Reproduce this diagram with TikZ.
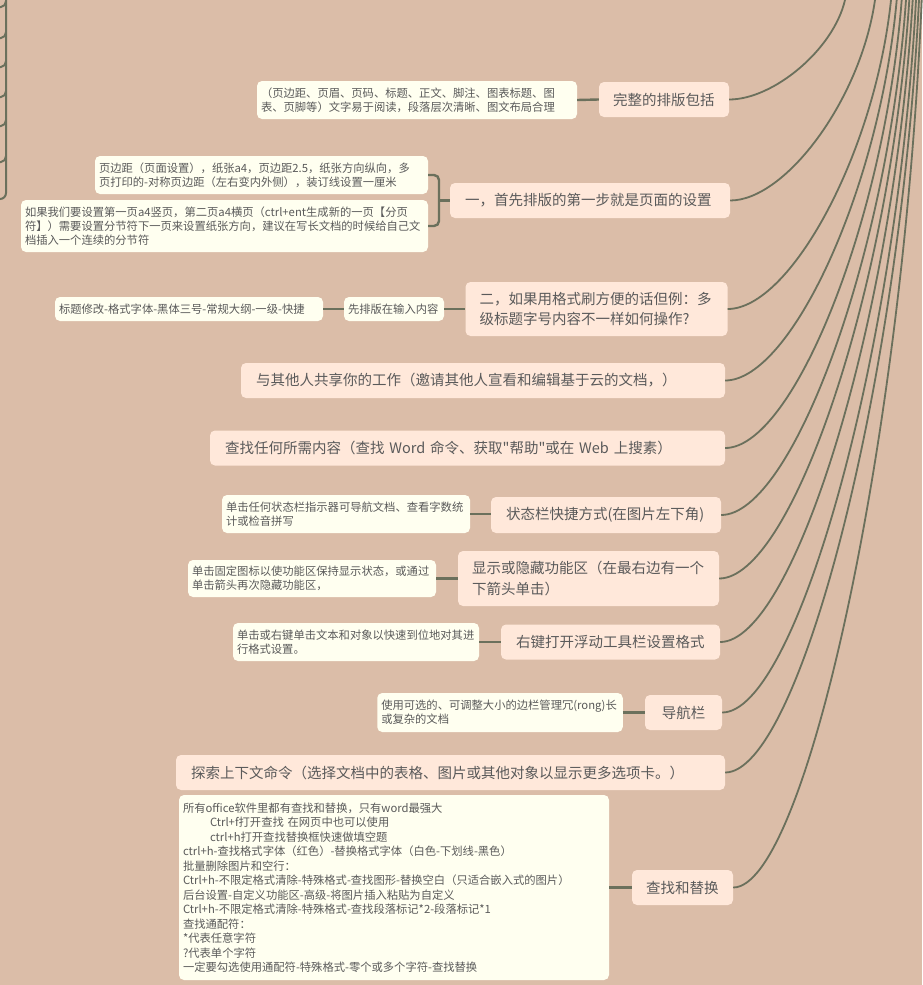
\documentclass[tikz,border=0pt]{standalone}
\usepackage{fontspec}
\newfontfamily\cjk{Noto Sans CJK SC}
\usetikzlibrary{calc}
\definecolor{bgc}{HTML}{DBBDA8}
\definecolor{mainfill}{HTML}{FFE8DA}
\definecolor{leaffill}{HTML}{FFFFF0}
\definecolor{linec}{HTML}{6B705C}
\definecolor{textc}{HTML}{5A5A5A}
\tikzset{
  mainnode/.style={fill=mainfill, rounded corners=5pt, text=textc,
    font=\cjk\fontsize{14.5}{20.5}\selectfont, inner xsep=15pt, inner ysep=0pt, align=left},
  leafnode/.style={fill=leaffill, rounded corners=5pt, text=textc,
    font=\cjk\fontsize{11.3}{14}\selectfont, inner xsep=4pt, inner ysep=0pt, align=left},
  curveline/.style={draw=linec, line width=1.8pt},
  linkline/.style={draw=linec, line width=2.4pt},
  brline/.style={draw=linec, line width=2pt},
}
\begin{document}
\begin{tikzpicture}[x=1pt,y=-1pt]
\fill[bgc] (0,0) rectangle (922,985);
\useasboundingbox (0,0) rectangle (922,985);

% main topics
\node[mainnode, inner xsep=14pt, text width=102pt, minimum height=35pt] (m1) at (664,99.5) {完整的排版包括};
\node[mainnode, text width=250pt, minimum height=35pt] (m2) at (590,200.5) {一，首先排版的第一步就是页面的设置};
\node[mainnode, inner xsep=14pt, text width=234pt, minimum height=54pt] (m3) at (596.5,309) {二，如果用格式刷方便的话但例：多\\级标题字号内容不一样如何操作?};
\node[mainnode, text width=454pt, minimum height=35pt] (m4) at (483,380.5) {与其他人共享你的工作（邀请其他人宣看和编辑基于云的文档，）};
\node[mainnode, text width=485pt, minimum height=35pt] (m5) at (467.5,448) {查找任何所需内容（查找 Word 命令、获取"帮助"或在 Web 上搜素）};
\node[mainnode, text width=200pt, minimum height=36pt] (m6) at (606,515) {状态栏快捷方式(在图片左下角)};
\node[mainnode, inner xsep=14pt, text width=233pt, minimum height=55pt] (m7) at (588.5,578.5) {显示或隐藏功能区（在最右边有一个\\下箭头单击）};
\node[mainnode, text width=189pt, minimum height=35pt] (m8) at (610.5,642) {右键打开浮动工具栏设置格式};
\node[mainnode, align=center, text width=47pt, minimum height=35pt] (m9) at (683.5,712.5) {导航栏};
\node[mainnode, text width=519pt, minimum height=35pt] (m10) at (450.5,772.5) {探索上下文命令（选择文档中的表格、图片或其他对象以显示更多选项卡。）};
\node[mainnode, inner xsep=14pt, text width=73pt, minimum height=35pt] (m11) at (682.5,887.5) {查找和替换};

% leaves
\node[leafnode, text width=312pt, minimum height=38pt] (l1) at (417,100) {（页边距、页眉、页码、标题、正文、脚注、图表标题、图\\表、页脚等）文字易于阅读，段落层次清晰、图文布局合理};
\node[leafnode, text width=325pt, minimum height=38pt] (l2a) at (261.5,175) {页边距（页面设置），纸张a4，页边距2.5，纸张方向纵向，多\\页打印的-对称页边距（左右变内外侧），装订线设置一厘米};
\node[leafnode, text width=399pt, minimum height=52pt] (l2b) at (224.5,226) {如果我们要设置第一页a4竖页，第二页a4横页（ctrl+ent生成新的一页【分页\\符】）需要设置分节符下一页来设置纸张方向，建议在写长文档的时候给自己文\\档插入一个连续的分节符};
\node[leafnode, text width=92pt, minimum height=24pt] (l3) at (394,309) {先排版在输入内容};
\node[leafnode, text width=260pt, minimum height=24pt] (l3b) at (189,309) {标题修改-格式字体-黑体三号-常规大纲-一级-快捷};
\node[leafnode, text width=240pt, minimum height=38pt] (l6) at (346,514) {单击任何状态栏指示器可导航文档、查看字数统\\计或检音拼写};
\node[leafnode, text width=240pt, minimum height=37pt] (l7) at (312,578.5) {单击固定图标以使功能区保持显示状态，或通过\\单击箭头再次隐藏功能区，};
\node[leafnode, text width=238pt, minimum height=38pt] (l8) at (356,642) {单击或右键单击文本和对象以快速到位地对其进\\行格式设置。};
\node[leafnode, text width=237.5pt, minimum height=39pt] (l9) at (500,712.5) {使用可选的、可调整大小的边栏管理冗(rong)长\\或复杂的文档};
\node[leafnode, font=\cjk\fontsize{11.3}{14.5}\selectfont, text width=422pt, minimum height=185pt] (l11) at (394,887.5) {所有office软件里都有查找和替换，只有word最强大\\
\hspace*{27pt}Ctrl+f打开查找 在网页中也可以使用\\
\hspace*{27pt}ctrl+h打开查找替换框快速做填空题\\
ctrl+h-查找格式字体（红色）-替换格式字体（白色-下划线-黑色）\\
批量删除图片和空行：\\
Ctrl+h-不限定格式清除-特殊格式-查找图形-替换空白（只适合嵌入式的图片）\\
后台设置-自定义功能区-高级-将图片插入粘贴为自定义\\
Ctrl+h-不限定格式清除-特殊格式-查找段落标记*2-段落标记*1\\
查找通配符：\\{}%
*代表任意字符\\{}%
?代表单个字符\\
一定要勾选使用通配符-特殊格式-零个或多个字符-查找替换};

% links main -> leaves
\draw[linkline] (l1.east) -- (m1.west);
\coordinate (br) at (439,200.5);
\draw[linkline, rounded corners=5pt] (l2a.east) -| (br) |- (l2b.east);
\draw[linkline] (br) -- (m2.west);
\draw[linkline] (l3.east) -- (m3.west);
\draw[linkline] (l3b.east) -- (l3.west);
\draw[linkline] (l6.east) -- (l6.east -| m6.west);
\draw[linkline] (l7.east) -- (m7.west);
\draw[linkline] (l8.east) -- (l8.east -| m8.west);
\draw[linkline] (l9.east) -- (m9.west);
\draw[linkline] (l11.east) -- (m11.west);

% curves to the (off-picture) centre
\foreach \n/\xt in {m1/845, m2/875, m3/891, m4/896.7, m5/901.7, m6/906, m7/909.3, m8/912.7, m9/916, m10/919, m11/921.7}{
  \coordinate (top) at (\xt,0);
  \coordinate (ca) at ($(top)!0.5!(top |- \n.east)$);
  \coordinate (cb) at ($(\n.east)!0.5!(\n.east |- top)$);
  \coordinate (c2) at ($(ca)!0.1!(cb)$);
  \coordinate (c1) at ($(\n.east)!0.38!(\n.east -| top)$);
  \coordinate (beyond) at ($(top)!-0.15!(c2)$);
  \draw[curveline] (\n.east) .. controls (c1) and (c2) .. (top) -- (beyond);
}

% bracket at the left edge (children off the picture)
\coordinate (lbtop) at (6,-5);
\coordinate (lbend) at (-1,199);
\draw[brline, rounded corners=6pt] (lbtop) -- (6,199) -- (lbend);
\foreach \yy [count=\i] in {7,38,67,97,126,162}{
  \coordinate (ls\i) at (-1,\yy);
  \draw[brline] (6,\yy-6) to[out=-90,in=0] (1,\yy) -- (ls\i);
}
\end{tikzpicture}
\end{document}
